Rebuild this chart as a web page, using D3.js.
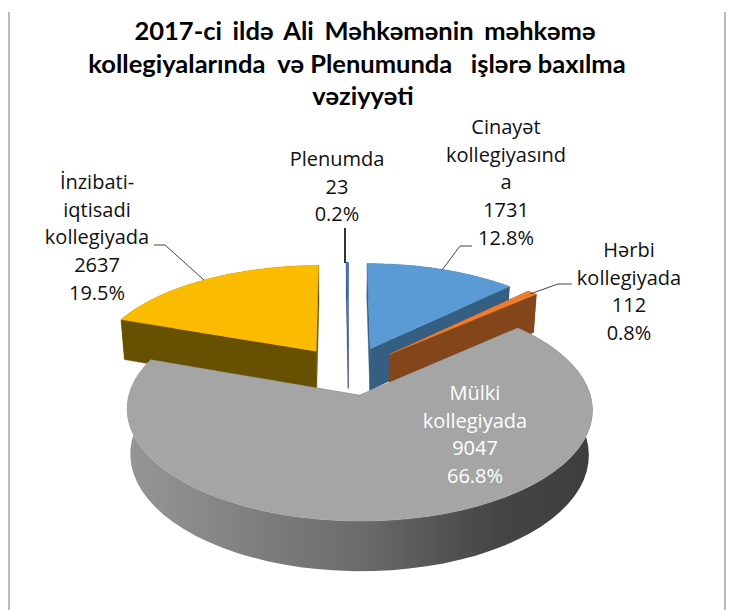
<!DOCTYPE html>
<html><head><meta charset="utf-8">
<script src="https://cdn.jsdelivr.net/npm/d3@7/dist/d3.min.js"></script>
<style>html,body{margin:0;padding:0;background:#fff}svg{display:block}text{font-family:"Open Sans",Lato,sans-serif}</style>
</head><body><svg id="c" width="729" height="610"></svg>
<script>
const categories=["Cinayət kollegiyasında","Hərbi kollegiyada","Mülki kollegiyada","İnzibati-iqtisadi kollegiyada","Plenumda"];
const values=[1731,112,9047,2637,23];
const percents=["12.8%","0.8%","66.8%","19.5%","0.2%"];
const topColors=["#5b9bd5","#ed7d31","#a5a5a5","#fbbc00","#4472c4"];
const wallColors=["#355f82","#83461b","#6a6a6a","#675000","#2a4678"];
const titleLines=["2017-ci ildə Ali Məhkəmənin məhkəmə","kollegiyalarında  və Plenumunda   işlərə baxılma","vəziyyəti"];
const titleCenters=[365,357,363];
const labelLines=[["Cinayət","kollegiyasınd","a","1731","12.8%"],["Hərbi","kollegiyada","112","0.8%"],["Mülki","kollegiyada","9047","66.8%"],["İnzibati-","iqtisadi","kollegiyada","2637","19.5%"],["Plenumda","23","0.2%"]];
const labelAnchors=[[506,134],[629,257],[475,400],[97,189],[337,166]];
const labelColors=["#111","#111","#fff","#111","#111"];
const leaders=[[[472,246],[460,246],[442,270]],[[572,284],[558,284],[530,294]],null,[[154,245],[165,245],[204,280]],[[345,228],[345,263]]];

const svg=d3.select("#c");
const defs=svg.append("defs");
const g=defs.append("linearGradient").attr("id","rim").attr("gradientUnits","userSpaceOnUse").attr("x1",127).attr("x2",588).attr("y1",0).attr("y2",0);
[[0,"#969696"],[.5,"#6c6c6c"],[.8,"#454545"],[1,"#3e3e3e"]].forEach(s=>g.append("stop").attr("offset",s[0]).attr("stop-color",s[1]));

// frame
const line=d3.line();
[[[9,12],[9,610]],[[725,12],[725,610]]].forEach(l=>svg.append("path").attr("d",line(l)).attr("fill","none").attr("stroke","#8c8c8c").attr("stroke-width",1.2));

// title
svg.append("g").selectAll("text").data(titleLines).join("text")
  .attr("x",(d,i)=>titleCenters[i]).attr("y",(d,i)=>40+i*32.5).attr("text-anchor","middle")
  .attr("fill","#000").style("white-space","pre").style("font-weight",700)
  .style("font-family","Lato").style("font-size","25.5px")
  .style("word-spacing",(d,i)=>i===0?"4.5px":"0").text(d=>d);

// projection
const X0=348.5,Y0=370.5,K=.47,P=.0006,R=224,Ex=57,Ey=52,D=43;
function proj(px,py,z){const f=1+P*py,s=1-z*.00035;return [X0+f*px*s,Y0+f*K*py+z*f];}
const pie=d3.pie().sort(null).startAngle(0).endAngle(2*Math.PI)(values);
function edge(a,c,z,r=R){return proj(c[0]+r*Math.sin(a),c[1]-r*Math.cos(a),z);}
const slices=pie.map(d=>{const m=(d.startAngle+d.endAngle)/2;return {...d,c:[Ex*Math.sin(m),-Ey*Math.cos(m)]};});
const arcPts=(s,z)=>d3.range(0,61).map(i=>edge(s.startAngle+(s.endAngle-s.startAngle)*i/60,s.c,z));
const order=[4,3,0,1,2];
const pg=svg.append("g");
order.forEach(i=>{
  const s=slices[i],c=s.c;
  const walls=[s.startAngle,s.endAngle].map(a=>[proj(c[0],c[1],0),edge(a,c,0),edge(a,c,D),proj(c[0],c[1],D)]);
  walls.forEach(w=>pg.append("path").attr("d",line(w)+"Z").attr("fill",wallColors[i]).attr("stroke",wallColors[i]).attr("stroke-width",.4));
  const rim=arcPts(s,0).concat(arcPts(s,D).reverse());
  pg.append("path").attr("d",line(rim)+"Z").attr("fill",i===2?"url(#rim)":wallColors[i]);
  pg.append("path").attr("d",line([proj(c[0],c[1],0),...arcPts(s,0)])+"Z").attr("fill",topColors[i]).attr("stroke",topColors[i]).attr("stroke-width",.4);
});

// leaders
leaders.forEach((l,i)=>{if(l)svg.append("path").attr("d",line(l)).attr("fill","none").attr("stroke",i===4?"#000":"#444").attr("stroke-width",i===4?1.6:1);});

// labels
labelLines.forEach((ls,i)=>{
  const t=svg.append("text").attr("text-anchor","middle").attr("font-size",20).attr("fill",labelColors[i]);
  ls.forEach((l,j)=>t.append("tspan").attr("x",labelAnchors[i][0]).attr("y",labelAnchors[i][1]+j*27.7).text(l));
});
</script></body></html>
